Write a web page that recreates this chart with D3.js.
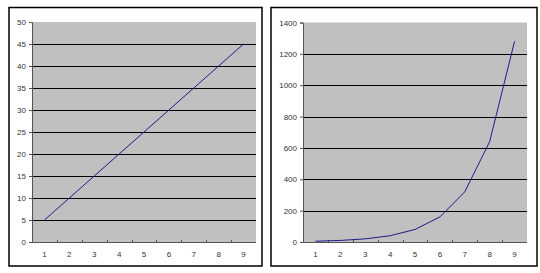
<!DOCTYPE html>
<html>
<head>
<meta charset="utf-8">
<script src="https://cdn.jsdelivr.net/npm/d3@7"></script>
<style>
  html, body { margin: 0; padding: 0; background: #fff; }
  svg { display: block; }
  text { font-family: "Liberation Sans", Arial, sans-serif; font-size: 8px; fill: #333; }
</style>
</head>
<body>
<svg id="chart" width="540" height="273"></svg>
<script>
const categories = [1, 2, 3, 4, 5, 6, 7, 8, 9];
const linearValues = [5, 10, 15, 20, 25, 30, 35, 40, 45];
const expValues = [5, 10, 20, 40, 80, 160, 320, 640, 1280];
const linearTicks = [0, 5, 10, 15, 20, 25, 30, 35, 40, 45, 50];
const expTicks = [0, 200, 400, 600, 800, 1000, 1200, 1400];

const svg = d3.select("#chart");

function panel(box, plot, values, ticks, maxY) {
  const g = svg.append("g");
  g.append("rect")
    .attr("x", box.x).attr("y", box.y)
    .attr("width", box.w).attr("height", box.h)
    .attr("fill", "#fff").attr("stroke", "#000").attr("stroke-width", 1.5);

  const x = d3.scaleBand().domain(categories).range([plot.x0, plot.x1]);
  const y = d3.scaleLinear().domain([0, maxY]).range([plot.y1, plot.y0]);

  g.append("rect")
    .attr("x", plot.x0).attr("y", plot.y0)
    .attr("width", plot.x1 - plot.x0).attr("height", plot.y1 - plot.y0)
    .attr("fill", "#c0c0c0");

  g.selectAll(".grid").data(ticks.filter(t => t > 0 && t < maxY))
    .join("line")
    .attr("x1", plot.x0).attr("x2", plot.x1)
    .attr("y1", d => Math.round(y(d)) + 0.5).attr("y2", d => Math.round(y(d)) + 0.5)
    .attr("stroke", "#000").attr("stroke-width", 1);

  const yAxis = d3.axisLeft(y).tickValues(ticks).tickFormat(d3.format("d")).tickSize(3).tickPadding(3);
  const ya = g.append("g").attr("transform", `translate(${plot.x0},0)`).call(yAxis);
  ya.select(".domain").attr("stroke", "#555");
  ya.selectAll(".tick line").attr("stroke", "#555");
  ya.selectAll("text").style("font-size", "8px").attr("fill", "#333");

  const xa = g.append("g").attr("transform", `translate(0,${plot.y1})`);
  xa.append("line").attr("x1", plot.x0).attr("x2", plot.x1)
    .attr("y1", 0.5).attr("y2", 0.5).attr("stroke", "#555");
  const bounds = categories.slice(1).map(c => x(c));
  xa.selectAll(".xt").data(bounds).join("line")
    .attr("x1", d => Math.round(d) + 0.5).attr("x2", d => Math.round(d) + 0.5)
    .attr("y1", -2).attr("y2", 1).attr("stroke", "#555");
  xa.selectAll(".xl").data(categories).join("text")
    .attr("x", d => x(d) + x.bandwidth() / 2)
    .attr("y", 15)
    .attr("text-anchor", "middle")
    .text(d => d);

  const line = d3.line()
    .x((d, i) => x(categories[i]) + x.bandwidth() / 2)
    .y(d => y(d));
  g.append("path").datum(values)
    .attr("d", line)
    .attr("fill", "none")
    .attr("stroke", "#1c1c8c")
    .attr("stroke-width", 1);
}

panel({x: 9, y: 7.5, w: 253, h: 258.5},
      {x0: 32, x1: 256, y0: 22, y1: 242},
      linearValues, linearTicks, 50);

panel({x: 271, y: 7.5, w: 266, h: 258.5},
      {x0: 303, x1: 527, y0: 22.5, y1: 242},
      expValues, expTicks, 1400);
</script>
</body>
</html>
